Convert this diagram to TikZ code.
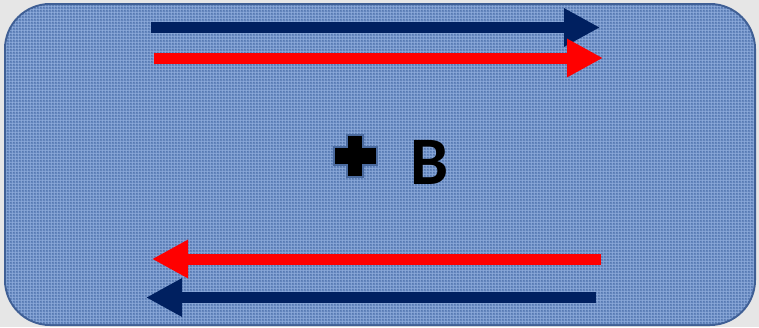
\documentclass[tikz,border=0pt]{standalone}
\usepackage{fontspec}
\setmainfont{Carlito}
\usetikzlibrary{arrows.meta,patterns}
\definecolor{navy}{HTML}{002060}
\definecolor{redA}{HTML}{FF0000}
\definecolor{frame}{HTML}{3F5F95}
\definecolor{cloth}{HTML}{6486BE}
\definecolor{clothlight}{HTML}{A8C4EE}
\definecolor{clothdark}{HTML}{3A5A90}
\definecolor{outside}{HTML}{E6E6E6}
\definecolor{crossline}{HTML}{4A6A9E}
\tikzset{
  arr/.style={line width=11pt, line cap=butt, -{Triangle[length=36pt,width=36pt]}},
}
\begin{document}
\begin{tikzpicture}[x=1pt,y=-1pt]
\useasboundingbox (0,0) rectangle (759,327);
\fill[outside] (0,0) rectangle (759,327);
\node[draw=frame, line width=2pt, fill=cloth, rounded corners=45pt, minimum width=750pt, minimum height=321pt, inner sep=0pt] (box) at (380,164.5) {};
\begin{scope}
\clip[rounded corners=44pt] (6,5) rectangle (754,324);
\fill[pattern=grid, pattern color=clothlight, opacity=0.45] (6,5) rectangle (754,324);
\fill[pattern=crosshatch dots, pattern color=clothdark, opacity=0.35] (6,5) rectangle (754,324);
\end{scope}
\coordinate (t1s) at (151,27.5); \coordinate (t1e) at (600,27.5);
\coordinate (t2s) at (154,58);   \coordinate (t2e) at (603,58);
\coordinate (b1s) at (601,259);  \coordinate (b1e) at (152,259);
\coordinate (b2s) at (596,297.5);\coordinate (b2e) at (146,297.5);
\draw[arr, navy] (t1s) -- (t1e);
\draw[arr, redA] (t2s) -- (t2e);
\draw[arr, redA] (b1s) -- (b1e);
\draw[arr, navy] (b2s) -- (b2e);
\draw[fill=black, draw=crossline, line width=1.5pt]
  (347,135) -- (363,135) -- (363,147) -- (377,147) -- (377,165) -- (363,165)
  -- (363,177) -- (347,177) -- (347,165) -- (334,165) -- (334,147) -- (347,147) -- cycle;
\node[font=\bfseries\fontsize{68}{68}\selectfont, inner sep=0pt] (B) at (430,162) {B};
\end{tikzpicture}
\end{document}
